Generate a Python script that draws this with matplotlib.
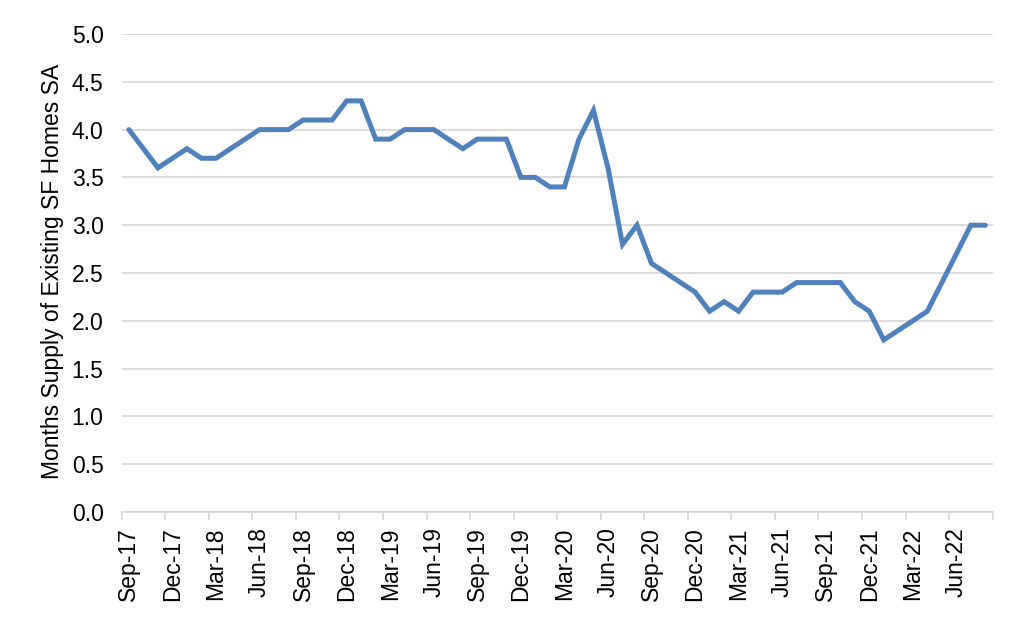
import matplotlib
matplotlib.use("Agg")
import matplotlib.pyplot as plt
import numpy as np

plt.rcParams['font.family'] = ['Liberation Sans', 'DejaVu Sans']

months = ["Sep-17","Oct-17","Nov-17","Dec-17","Jan-18","Feb-18","Mar-18","Apr-18","May-18","Jun-18",
          "Jul-18","Aug-18","Sep-18","Oct-18","Nov-18","Dec-18","Jan-19","Feb-19","Mar-19","Apr-19",
          "May-19","Jun-19","Jul-19","Aug-19","Sep-19","Oct-19","Nov-19","Dec-19","Jan-20","Feb-20",
          "Mar-20","Apr-20","May-20","Jun-20","Jul-20","Aug-20","Sep-20","Oct-20","Nov-20","Dec-20",
          "Jan-21","Feb-21","Mar-21","Apr-21","May-21","Jun-21","Jul-21","Aug-21","Sep-21","Oct-21",
          "Nov-21","Dec-21","Jan-22","Feb-22","Mar-22","Apr-22","May-22","Jun-22","Jul-22","Aug-22"]
supply = [4.0, 3.8, 3.6, 3.7, 3.8, 3.7, 3.7, 3.8, 3.9, 4.0,
          4.0, 4.0, 4.1, 4.1, 4.1, 4.3, 4.3, 3.9, 3.9, 4.0,
          4.0, 4.0, 3.9, 3.8, 3.9, 3.9, 3.9, 3.5, 3.5, 3.4,
          3.4, 3.9, 4.2, 3.6, 2.8, 3.0, 2.6, 2.5, 2.4, 2.3,
          2.1, 2.2, 2.1, 2.3, 2.3, 2.3, 2.4, 2.4, 2.4, 2.4,
          2.2, 2.1, 1.8, 1.9, 2.0, 2.1, 2.4, 2.7, 3.0, 3.0]
ylabel = "Months Supply of Existing SF Homes SA"

FS = 16.5
fig = plt.figure(figsize=(10.24, 6.2), dpi=100)
ax = fig.add_axes([0.1188, 0.1742, 0.8506, 0.771])

x = np.arange(len(supply))
ax.plot(x, supply, color='#4F81BD', linewidth=3.6, solid_capstyle='round', solid_joinstyle='miter', zorder=3)

ax.set_xlim(-0.5, len(supply) - 0.5)
ax.set_ylim(0, 5.0)
yt = np.arange(0, 5.01, 0.5)
ax.set_yticks(yt)
ax.set_yticklabels([f"{v:.1f}" for v in yt], fontsize=FS)
ax.yaxis.grid(True, color='#d9d9d9', linewidth=1.3)
ax.set_axisbelow(True)
ax.tick_params(axis='y', length=0, pad=13)

ax.set_xticks(x[::3])
ax.set_xticklabels(months[::3], rotation=90, fontsize=FS)
ax.tick_params(axis='x', which='major', length=0, pad=11)
ax.set_xticks(np.arange(-0.5, len(supply), 3), minor=True)
ax.tick_params(axis='x', which='minor', length=6, color='#d9d9d9', width=1.3)

for s in ['top', 'right', 'left']:
    ax.spines[s].set_visible(False)
ax.spines['bottom'].set_color('#d9d9d9')
ax.spines['bottom'].set_linewidth(1.3)

ax.set_ylabel(ylabel, fontsize=FS)
ax.yaxis.set_label_coords(-0.066, 0.504)

fig.savefig("out.png", dpi=100, facecolor='white')
